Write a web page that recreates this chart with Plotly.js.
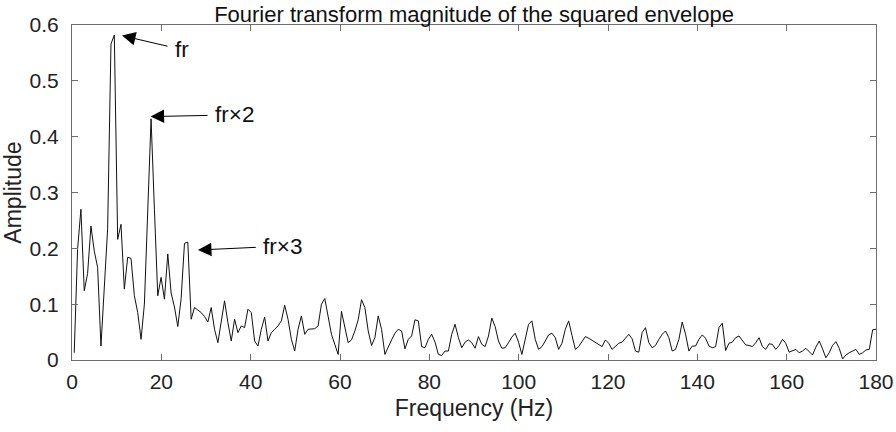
<!DOCTYPE html>
<html>
<head>
<meta charset="utf-8">
<script src="https://cdn.plot.ly/plotly-3.0.1.min.js"></script>
<style>html,body{margin:0;padding:0;background:#fff;}#chart{width:896px;height:432px;}</style>
</head>
<body>
<div id="chart"></div>
<script>
// FFT bin grid (Hz)
var binStart = 0.5;
var binWidth = 0.7479;

// Magnitude of the squared-envelope spectrum, one value per bin
var amplitude = [
  0.013, 0.198, 0.27, 0.124, 0.155, 0.24, 0.195, 0.166, 0.025, 0.13,
  0.235, 0.566, 0.582, 0.216, 0.243, 0.127, 0.184, 0.182, 0.115, 0.085,
  0.037, 0.1, 0.25, 0.432, 0.27, 0.115, 0.148, 0.109, 0.19, 0.12,
  0.095, 0.06, 0.11, 0.209, 0.211, 0.073, 0.094, 0.09, 0.085, 0.078,
  0.068, 0.094, 0.055, 0.031, 0.067, 0.106, 0.067, 0.034, 0.073, 0.049,
  0.061, 0.058, 0.091, 0.085, 0.034, 0.025, 0.055, 0.077, 0.034, 0.049,
  0.055, 0.061, 0.07, 0.098, 0.073, 0.037, 0.016, 0.055, 0.079, 0.046,
  0.055, 0.055, 0.056, 0.061, 0.1, 0.11, 0.079, 0.046, 0.028, 0.01,
  0.087, 0.061, 0.031, 0.036, 0.052, 0.072, 0.108, 0.094, 0.052, 0.026,
  0.04, 0.079, 0.055, 0.01, 0.024, 0.036, 0.048, 0.055, 0.052, 0.02,
  0.037, 0.043, 0.072, 0.07, 0.024, 0.022, 0.037, 0.046, 0.032, 0.01,
  0.008, 0.016, 0.016, 0.046, 0.064, 0.04, 0.022, 0.032, 0.036, 0.031,
  0.021, 0.042, 0.028, 0.024, 0.043, 0.075, 0.06, 0.034, 0.021, 0.022,
  0.031, 0.041, 0.048, 0.032, 0.01, 0.037, 0.064, 0.07, 0.037, 0.019,
  0.024, 0.034, 0.045, 0.048, 0.04, 0.019, 0.03, 0.055, 0.07, 0.044,
  0.019, 0.024, 0.034, 0.042, 0.039, 0.035, 0.032, 0.027, 0.024, 0.036,
  0.03, 0.019, 0.025, 0.03, 0.032, 0.039, 0.046, 0.038, 0.016, 0.014,
  0.049, 0.058, 0.031, 0.022, 0.026, 0.037, 0.046, 0.052, 0.04, 0.016,
  0.019, 0.037, 0.068, 0.046, 0.016, 0.025, 0.025, 0.037, 0.045, 0.039,
  0.025, 0.022, 0.024, 0.058, 0.066, 0.017, 0.03, 0.032, 0.04, 0.043,
  0.035, 0.027, 0.026, 0.024, 0.031, 0.04, 0.024, 0.019, 0.029, 0.028,
  0.019, 0.026, 0.037, 0.03, 0.014, 0.017, 0.019, 0.013, 0.016, 0.021,
  0.014, 0.009, 0.023, 0.034, 0.02, 0.004, 0.013, 0.026, 0.033, 0.021,
  0.002, 0.009, 0.013, 0.016, 0.019, 0.01, 0.013, 0.018, 0.019, 0.054, 0.055
];

var xTickVals = [0, 20, 40, 60, 80, 100, 120, 140, 160, 180];
var yTickVals = [0, 0.1, 0.2, 0.3, 0.4, 0.5, 0.6];
var yTickText = ['0', '0.1', '0.2', '0.3', '0.4', '0.5', '0.6'];

// Harmonic labels: arrow tip (peak) and label position
var harmLabels = ['fr', 'fr×2', 'fr×3'];
var harmTipX = [11.2, 17.6, 28.2];
var harmTipY = [0.581, 0.436, 0.197];
var harmTextX = [24.6, 36.4, 47.2];
var harmTextY = [0.556, 0.439, 0.204];

var frequency = amplitude.map(function (_, i) { return binStart + binWidth * i; });

var FONT = 'Liberation Sans, Arial, sans-serif';

var trace = {
  x: frequency,
  y: amplitude,
  type: 'scatter',
  mode: 'lines',
  line: {color: '#111111', width: 1},
  hoverinfo: 'skip'
};

var annotations = harmLabels.map(function (t, k) {
  return {
    x: harmTipX[k], y: harmTipY[k], xref: 'x', yref: 'y',
    ax: harmTextX[k], ay: harmTextY[k], axref: 'x', ayref: 'y',
    text: t, showarrow: true,
    arrowhead: 2, arrowsize: 2.7, arrowwidth: 1, arrowcolor: '#000',
    startstandoff: 6,
    font: {family: FONT, size: 22.5, color: '#111'}
  };
});

var axisCommon = {
  showgrid: false, zeroline: false,
  showline: true, linecolor: '#6e6e6e', linewidth: 1, mirror: 'ticks',
  ticks: 'inside', ticklen: 6, tickcolor: '#6e6e6e', tickwidth: 1,
  tickfont: {family: FONT, size: 21, color: '#222'}
};

var layout = {
  width: 896, height: 432,
  margin: {l: 72, r: 20, t: 25, b: 72},
  paper_bgcolor: '#fff', plot_bgcolor: '#fff',
  showlegend: false,
  title: {
    text: 'Fourier transform magnitude of the squared envelope',
    font: {family: FONT, size: 22, color: '#111'},
    x: 0.5, xref: 'paper', y: 0.968, yref: 'container', yanchor: 'middle'
  },
  xaxis: Object.assign({}, axisCommon, {
    range: [0, 180], tickvals: xTickVals, ticklabelstandoff: 3,
    title: {text: 'Frequency (Hz)', font: {family: FONT, size: 23, color: '#222'}, standoff: 7}
  }),
  yaxis: Object.assign({}, axisCommon, {
    range: [0, 0.6], tickvals: yTickVals, ticktext: yTickText, ticklabelstandoff: 8,
    title: {text: 'Amplitude', font: {family: FONT, size: 23, color: '#222'}, standoff: 6}
  }),
  annotations: annotations
};

Plotly.newPlot('chart', [trace], layout, {staticPlot: true, displayModeBar: false});
</script>
</body>
</html>
